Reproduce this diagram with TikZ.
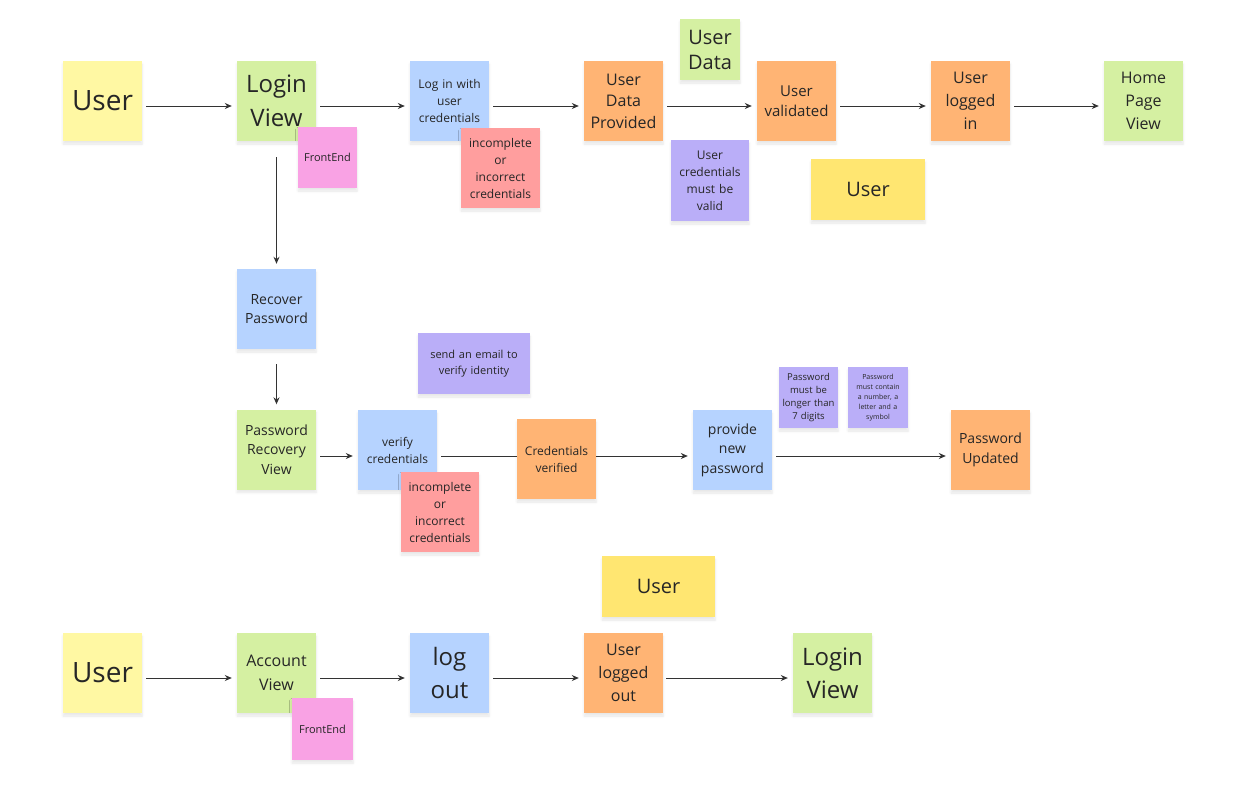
\documentclass[tikz,border=0pt]{standalone}
\usepackage{fontspec}
\setmainfont{Open Sans}
\usetikzlibrary{arrows.meta,shadows.blur,backgrounds}
\definecolor{cyel}{HTML}{FFF8A3}
\definecolor{cdyel}{HTML}{FFE671}
\definecolor{cgrn}{HTML}{D5F0A2}
\definecolor{cblu}{HTML}{B6D3FF}
\definecolor{cpnk}{HTML}{F9A2E4}
\definecolor{cred}{HTML}{FF9E9E}
\definecolor{corg}{HTML}{FFB474}
\definecolor{cpur}{HTML}{BAAEF8}
\definecolor{ctxt}{HTML}{262626}
\definecolor{cline}{HTML}{333333}
\newcommand{\fz}[2]{\fontsize{#1}{#2}\selectfont}
\tikzset{
  stk/.style={draw=none, inner sep=0pt, align=center, text=ctxt,
    minimum width=79pt, minimum height=80pt, text width=74pt,
    blur shadow={shadow blur steps=6, shadow xshift=0pt, shadow yshift=-3pt, shadow opacity=10, shadow blur radius=2.5pt}},
  small/.style={minimum width=#1, text width=#1-4pt},
  arr/.style={draw=cline, line width=1pt, -{Stealth[length=7pt,width=6pt]},
    shorten <=4pt, shorten >=5pt},
}
\begin{document}
\begin{tikzpicture}[x=1pt,y=-1pt]
\useasboundingbox (0,0) rectangle (1247,801);

% Row 1
\node[stk, fill=cyel, font=\fz{28}{32}] (u1) at (102.5,101) {User};
\node[stk, fill=cgrn, font=\fz{24}{34}] (lv1) at (276.5,101) {Login\\View};
\node[stk, fill=cpnk, small=59pt, minimum height=61pt, font=\fz{11}{15}] (fe1) at (327.5,157.5) {FrontEnd};
\node[stk, fill=cblu, font=\fz{12}{17}] (lw) at (449.5,101) {Log in with\\user\\credentials};
\node[stk, fill=cred, font=\fz{12}{17}] (ic1) at (500.5,168) {incomplete\\or\\incorrect\\credentials};
\node[stk, fill=corg, font=\fz{16}{21.5}] (udp) at (623.5,101) {User\\Data\\Provided};
\node[stk, fill=cgrn, small=60pt, minimum height=61pt, font=\fz{20}{25}] (ud) at (710,49.5) {User\\Data};
\node[stk, fill=corg, font=\fz{15}{19.5}] (uv) at (796.5,101) {User\\validated};
\node[stk, fill=cpur, small=78pt, minimum height=81pt, font=\fz{12}{17}] (ucv) at (710,180.5) {User\\credentials\\must be\\valid};
\node[stk, fill=cdyel, small=114pt, minimum height=61pt, font=\fz{20}{25}] (uy1) at (868,189.5) {User};
\node[stk, fill=corg, font=\fz{16}{23}] (uli) at (970.5,101) {User\\logged\\in};
\node[stk, fill=cgrn, font=\fz{16}{23}] (hpv) at (1143.5,101) {Home\\Page\\View};

% Row 2
\node[stk, fill=cblu, font=\fz{14}{19}] (rp) at (276.5,309) {Recover\\Password};
\node[stk, fill=cgrn, font=\fz{14}{19.5}] (prv) at (276.5,449.5) {Password\\Recovery\\View};
\node[stk, fill=cpur, small=112pt, minimum height=61pt, font=\fz{11}{16}] (se) at (474,363.5) {send an email to\\verify identity};
\node[stk, fill=cblu, font=\fz{12}{17}] (vc) at (397.5,450) {verify\\credentials};
\node[stk, fill=cred, small=78pt, font=\fz{12}{17}] (ic2) at (440,512) {incomplete\\or\\incorrect\\credentials};
\node[stk, fill=corg, font=\fz{12}{17}] (cv) at (556.5,459) {Credentials\\verified};
\node[stk, fill=cblu, font=\fz{14}{19.5}] (pnp) at (732.5,450) {provide\\new\\password};
\node[stk, fill=cpur, small=59pt, minimum height=61pt, font=\fz{9.5}{13}] (pm1) at (808.5,397.5) {Password\\must be\\longer than\\7 digits};
\node[stk, fill=cpur, small=60pt, minimum height=61pt, font=\fz{7}{10}] (pm2) at (878,397.5) {Password\\must contain\\a number, a\\letter and a\\symbol};
\node[stk, fill=corg, font=\fz{14}{19.5}] (pu) at (990.5,450) {Password\\Updated};

% Row 3
\node[stk, fill=cdyel, small=113pt, minimum height=61pt, font=\fz{20}{25}] (uy3) at (658.5,586.5) {User};
\node[stk, fill=cyel, font=\fz{28}{32}] (u3) at (102.5,673) {User};
\node[stk, fill=cgrn, font=\fz{16}{24}] (av) at (276.5,673) {Account\\View};
\node[stk, fill=cpnk, small=61pt, minimum height=62pt, font=\fz{11}{15}] (fe3) at (322.5,729) {FrontEnd};
\node[stk, fill=cblu, font=\fz{24}{33}] (lo) at (449.5,673) {log\\out};
\node[stk, fill=corg, font=\fz{16}{23}] (ulo) at (623.5,673) {User\\logged\\out};
\node[stk, fill=cgrn, font=\fz{24}{33}] (lv3) at (832.5,673) {Login\\View};

\begin{scope}[on background layer]
% Row 1 connectors
\draw[arr] ([yshift=-5pt]u1.east) -- ([yshift=-5pt]lv1.west);
\draw[arr] ([yshift=-5pt]lv1.east) -- ([yshift=-5pt]lw.west);
\draw[arr] ([yshift=-5pt]lw.east) -- ([yshift=-5pt]udp.west);
\draw[arr] ([yshift=-5pt]udp.east) -- ([yshift=-5pt]uv.west);
\draw[arr] ([yshift=-5pt]uv.east) -- ([yshift=-5pt]uli.west);
\draw[arr] ([yshift=-5pt]uli.east) -- ([yshift=-5pt]hpv.west);
% vertical
\draw[arr, shorten <=16pt] (lv1.south) -- (rp.north);
\draw[arr, shorten <=15pt] (rp.south) -- (prv.north);
% Row 2
\draw[arr] ([yshift=-6.5pt]prv.east) -- ([yshift=-6pt]vc.west);
\draw[arr] ([yshift=-6pt]vc.east) -- ([yshift=-6pt]pnp.west);
\draw[arr] ([yshift=-6pt]pnp.east) -- ([yshift=-6pt]pu.west);
% Row 3
\draw[arr] ([yshift=-5pt]u3.east) -- ([yshift=-5pt]av.west);
\draw[arr] ([yshift=-5pt]av.east) -- ([yshift=-5pt]lo.west);
\draw[arr] ([yshift=-5pt]lo.east) -- ([yshift=-5pt]ulo.west);
\draw[arr, shorten <=3pt] ([yshift=-5pt]ulo.east) -- ([yshift=-5pt]lv3.west);
\end{scope}
\end{tikzpicture}
\end{document}
